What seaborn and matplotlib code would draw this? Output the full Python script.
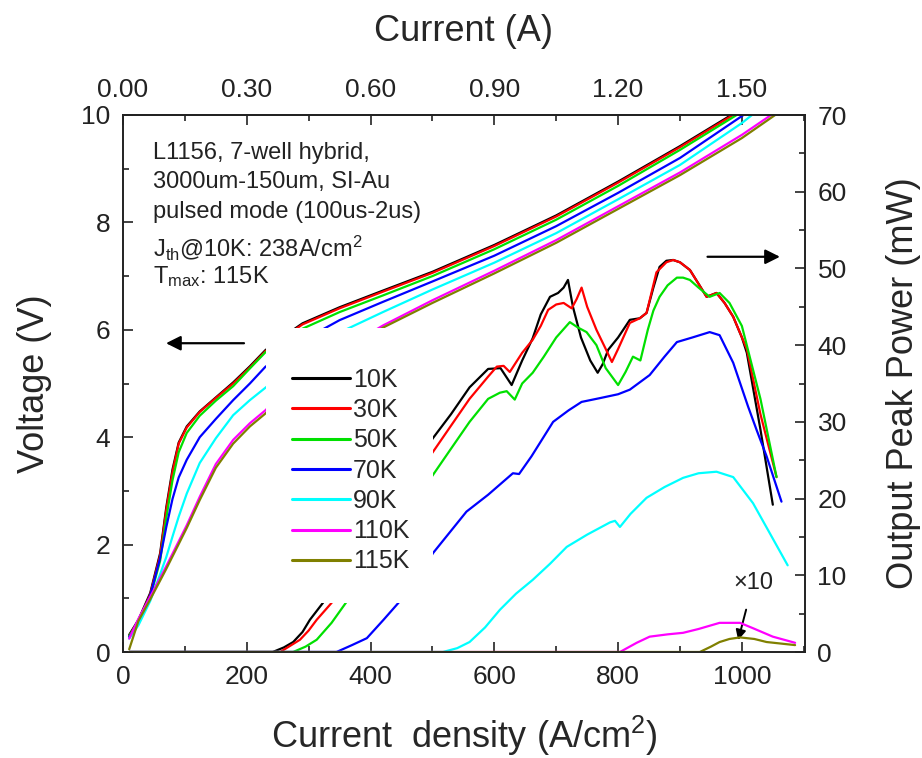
import numpy as np
import pandas as pd
import matplotlib
matplotlib.use("Agg")
import matplotlib.pyplot as plt
import seaborn as sns
from matplotlib.lines import Line2D
from matplotlib.patches import Rectangle
from matplotlib.ticker import MultipleLocator, FormatStrFormatter

# ---------------- data ----------------
temps = ["10K", "30K", "50K", "70K", "90K", "110K", "115K"]
colors = ["#000000", "#ff0000", "#00e000", "#0000ff", "#00ffff", "#ff00ff", "#808000"]

# Voltage vs current density (A/cm^2)
j_volt = [10, 25, 44, 60, 70, 80, 90, 103, 124, 150, 178, 205, 230, 260, 290,
          350, 420, 500, 600, 700, 800, 900, 1000, 1060]
v_10k = [0.32, 0.60, 1.10, 1.84, 2.70, 3.40, 3.90, 4.20, 4.48, 4.74, 5.02, 5.32, 5.62, 5.88, 6.12,
         6.42, 6.73, 7.08, 7.58, 8.13, 8.76, 9.42, 10.12, 10.60]
v_30k = [0.30, 0.58, 1.07, 1.80, 2.65, 3.35, 3.88, 4.18, 4.47, 4.73, 5.00, 5.30, 5.60, 5.86, 6.10,
         6.40, 6.71, 7.06, 7.56, 8.11, 8.74, 9.40, 10.10, 10.58]
v_50k = [0.30, 0.56, 1.02, 1.70, 2.50, 3.20, 3.72, 4.08, 4.40, 4.68, 4.95, 5.28, 5.58, 5.82, 6.02,
         6.33, 6.64, 7.00, 7.50, 8.05, 8.68, 9.35, 10.06, 10.50]
v_70k = [0.28, 0.55, 1.05, 1.75, 2.33, 2.85, 3.25, 3.58, 4.00, 4.34, 4.69, 5.00, 5.31, 5.56, 5.80,
         6.18, 6.52, 6.90, 7.38, 7.93, 8.55, 9.20, 9.98, 10.45]
v_90k = [0.25, 0.50, 0.95, 1.45, 1.77, 2.15, 2.52, 2.95, 3.52, 3.98, 4.41, 4.69, 4.92, 5.20, 5.45,
         5.95, 6.33, 6.75, 7.25, 7.80, 8.43, 9.07, 9.85, 10.40]
v_110k = [0.25, 0.62, 1.03, 1.38, 1.60, 1.83, 2.06, 2.36, 2.89, 3.50, 3.95, 4.26, 4.50, 4.85, 5.15,
          5.60, 6.08, 6.55, 7.10, 7.67, 8.30, 8.93, 9.63, 10.10]
v_115k = [0.05, 0.58, 0.98, 1.33, 1.55, 1.78, 2.01, 2.31, 2.83, 3.43, 3.88, 4.20, 4.44, 4.80, 5.10,
          5.56, 6.04, 6.50, 7.05, 7.62, 8.25, 8.88, 9.57, 10.05]

# Output peak power (mW) vs current density (A/cm^2)
j_p10k = [10, 242, 260, 275, 290, 302, 323, 400, 450, 501, 530, 560, 590, 610, 628, 645, 662,
          675, 690, 703, 712, 719, 727, 740, 755, 767, 775, 784, 800, 819, 835, 846, 857, 867,
          878, 889, 900, 916, 930, 943, 959, 972, 986, 1000, 1008, 1030, 1050]
p_10k = [0, 0, 0.6, 1.3, 2.6, 4.2, 6.4, 16.0, 22.0, 27.9, 31.0, 34.5, 36.9, 37.0, 34.8, 38.0, 40.9,
         44.0, 46.3, 46.8, 47.5, 48.5, 45.0, 41.0, 38.0, 36.4, 37.5, 39.4, 41.0, 43.3, 43.5, 44.2, 47.5, 50.2,
         51.0, 51.1, 50.8, 49.8, 48.0, 46.3, 46.8, 45.5, 43.7, 41.0, 39.0, 29.0, 19.2]

j_p30k = [10, 254, 270, 286, 300, 313, 337, 400, 450, 501, 530, 560, 590, 604, 615, 625, 645,
          662, 675, 687, 700, 712, 725, 733, 741, 750, 765, 780, 790, 800, 819, 835, 846, 862,
          878, 889, 900, 916, 943, 959, 972, 986, 1008, 1030, 1056]
p_30k = [0, 0, 0.8, 1.6, 2.8, 4.2, 6.4, 14.5, 20.5, 26.1, 29.5, 33.0, 35.9, 37.2, 37.3, 36.5, 39.0,
         40.7, 42.5, 44.6, 45.3, 45.5, 44.8, 46.0, 47.5, 45.0, 42.0, 39.5, 37.8, 39.5, 42.9, 43.5, 44.2, 49.5,
         50.8, 51.1, 50.8, 49.8, 46.3, 46.8, 45.5, 43.7, 39.5, 31.0, 22.8]

j_p50k = [10, 275, 295, 313, 337, 360, 420, 470, 501, 530, 560, 590, 609, 620, 633, 645, 662,
          680, 700, 722, 735, 749, 765, 780, 800, 812, 824, 836, 848, 857, 867, 880, 895, 905,
          916, 930, 948, 964, 980, 1000, 1030, 1056]
p_50k = [0, 0, 0.7, 1.6, 3.8, 6.4, 13.0, 19.5, 23.1, 26.5, 30.0, 33.0, 33.8, 34.0, 32.9, 35.0, 36.4,
         38.5, 41.0, 43.0, 42.3, 41.7, 40.0, 37.0, 34.8, 36.5, 38.5, 38.0, 42.0, 44.5, 46.3, 47.8, 48.8, 48.8,
         48.5, 47.5, 46.3, 46.8, 45.5, 42.5, 33.0, 22.8]

j_p70k = [10, 345, 370, 394, 421, 445, 475, 501, 530, 555, 590, 630, 640, 660, 695, 720, 741,
          771, 800, 819, 851, 875, 895, 920, 948, 964, 986, 1010, 1024, 1040, 1064]
p_70k = [0, 0, 0.9, 1.8, 4.2, 6.4, 9.5, 12.9, 15.8, 18.3, 20.5, 23.3, 23.2, 25.5, 30.0, 31.5, 32.6,
         33.1, 33.6, 34.2, 36.1, 38.5, 40.4, 41.0, 41.7, 41.3, 37.7, 32.0, 28.9, 25.5, 19.6]

j_p90k = [10, 517, 540, 560, 585, 609, 635, 662, 690, 717, 750, 787, 795, 803, 820, 846, 875,
          905, 930, 959, 986, 1018, 1045, 1074]
p_90k = [0, 0, 0.5, 1.3, 3.2, 5.5, 7.6, 9.4, 11.5, 13.7, 15.3, 16.9, 17.1, 16.3, 18.0, 20.1, 21.5,
         22.7, 23.3, 23.5, 22.8, 19.4, 15.5, 11.3]

j_p110k = [10, 803, 830, 851, 880, 905, 930, 964, 997, 1018, 1050, 1086]
p_110k = [0, 0, 1.2, 2.0, 2.3, 2.5, 3.0, 3.8, 3.8, 3.1, 2.0, 1.2]

j_p115k = [10, 932, 950, 964, 980, 997, 1020, 1040, 1086]
p_115k = [0, 0, 0.7, 1.3, 1.7, 1.9, 1.7, 1.3, 0.9]

info_lines = [
    "L1156, 7-well hybrid,",
    "3000um-150um, SI-Au",
    "pulsed mode (100us-2us)",
    r"J$_{th}$@10K: 238A/cm$^2$",
    r"T$_{max}$: 115K",
]

# ---------------- tables ----------------
volt_series = [v_10k, v_30k, v_50k, v_70k, v_90k, v_110k, v_115k]
df_v = pd.concat(
    [pd.DataFrame({"J": j_volt, "V": v, "T": t}) for t, v in zip(temps, volt_series)],
    ignore_index=True,
)
pow_series = [(j_p10k, p_10k), (j_p30k, p_30k), (j_p50k, p_50k), (j_p70k, p_70k),
              (j_p90k, p_90k), (j_p110k, p_110k), (j_p115k, p_115k)]
df_p = pd.concat(
    [pd.DataFrame({"J": j, "P": p, "T": t}) for t, (j, p) in zip(temps, pow_series)],
    ignore_index=True,
)

# ---------------- style ----------------
sns.set_style("ticks")
plt.rcParams["font.family"] = ["Liberation Sans", "DejaVu Sans"]
plt.rcParams["mathtext.fontset"] = "custom"
plt.rcParams["mathtext.rm"] = "Liberation Sans"
plt.rcParams["mathtext.it"] = "Liberation Sans:italic"
plt.rcParams["mathtext.bf"] = "Liberation Sans:bold"
plt.rcParams["mathtext.default"] = "rm"

TICK_FS = 19
LABEL_FS = 26
palette = dict(zip(temps, colors))

fig = plt.figure(figsize=(9.22, 7.58), dpi=100)
ax = fig.add_axes([123 / 922, 1 - 652 / 758, (805 - 123) / 922, (652 - 115) / 758])
ax2 = ax.twinx()

sns.lineplot(data=df_v, x="J", y="V", hue="T", hue_order=temps, palette=palette,
             ax=ax, legend=False, sort=False, estimator=None, linewidth=1.6)
sns.lineplot(data=df_p, x="J", y="P", hue="T", hue_order=temps, palette=palette,
             ax=ax2, legend=False, sort=False, estimator=None, linewidth=1.6)

ax.set_xlim(0, 1102)
ax.set_ylim(0, 10)
ax2.set_ylim(0, 70)

# axis cosmetics
for a in (ax, ax2):
    for s in a.spines.values():
        s.set_linewidth(1.2)
        s.set_color("#222222")

ax.xaxis.set_major_locator(MultipleLocator(200))
ax.xaxis.set_minor_locator(MultipleLocator(100))
ax.yaxis.set_major_locator(MultipleLocator(2))
ax.yaxis.set_minor_locator(MultipleLocator(1))
ax2.yaxis.set_major_locator(MultipleLocator(10))
ax2.yaxis.set_minor_locator(MultipleLocator(5))

ax.tick_params(which="both", direction="in", top=False, right=False, width=1.2,
               labelsize=TICK_FS, colors="#222222")
ax.tick_params(which="major", length=7, pad=9)
ax.tick_params(which="minor", length=4)
ax2.tick_params(which="both", direction="in", width=1.2, labelsize=TICK_FS, colors="#222222")
ax2.tick_params(which="major", length=7, pad=9)
ax2.tick_params(which="minor", length=4)

ax.set_xlabel("Current  density (A/cm$^2$)", fontsize=LABEL_FS, labelpad=18)
ax.set_ylabel("Voltage (V)", fontsize=LABEL_FS, labelpad=21)
ax2.set_ylabel("Output Peak Power (mW)", fontsize=LABEL_FS, labelpad=28)

# top axis: drive current for the 0.0015 cm^2 device
area = 0.0015
top = ax.secondary_xaxis("top", functions=(lambda j: j * area, lambda i: i / area))
top.set_xticks([0.0, 0.3, 0.6, 0.9, 1.2, 1.5])
top.xaxis.set_minor_locator(MultipleLocator(0.15))
top.xaxis.set_major_formatter(FormatStrFormatter("%.2f"))
top.tick_params(which="both", direction="in", width=1.2, labelsize=TICK_FS, colors="#222222")
top.tick_params(which="major", length=7, pad=9)
top.tick_params(which="minor", length=4)
top.spines["top"].set_linewidth(1.2)
top.set_xlabel("Current (A)", fontsize=LABEL_FS, labelpad=27)

# blank panel that holds the legend
ax2.add_patch(Rectangle((231, 6.4), 270, 35.8, facecolor="white", edgecolor="none", zorder=5))

handles = [Line2D([], [], color=c, lw=2.2) for c in colors]
leg = ax2.legend(handles, temps, loc="upper left", bbox_to_anchor=(292 / 922, 1 - 368 / 758),
                 bbox_transform=fig.transFigure, frameon=False, fontsize=18,
                 handlelength=2.3, handletextpad=0.15, labelspacing=0.25, borderpad=0,
                 borderaxespad=0)
leg.set_zorder(6)

# direction arrows
ax.annotate("", xy=(65, 5.75), xytext=(200, 5.75),
            arrowprops=dict(arrowstyle="-|>", color="black", lw=1.6, mutation_scale=22))
ax.annotate("", xy=(1066, 7.36), xytext=(940, 7.36),
            arrowprops=dict(arrowstyle="-|>", color="black", lw=1.6, mutation_scale=22))

# x10 marker for the weakest trace
ax.annotate("×10", xy=(994, 0.22), xytext=(1018, 1.28), ha="center", va="center",
            fontsize=17, color="#222222",
            arrowprops=dict(arrowstyle="-|>", color="black", lw=1.4, mutation_scale=15,
                            shrinkA=9, shrinkB=0))

# device info block
for txt, yc in zip(info_lines, [153, 182, 212, 247, 277]):
    fig.text(153 / 922, 1 - yc / 758, txt, fontsize=17, ha="left", va="center", color="#222222")

fig.savefig("out.png", dpi=100)
